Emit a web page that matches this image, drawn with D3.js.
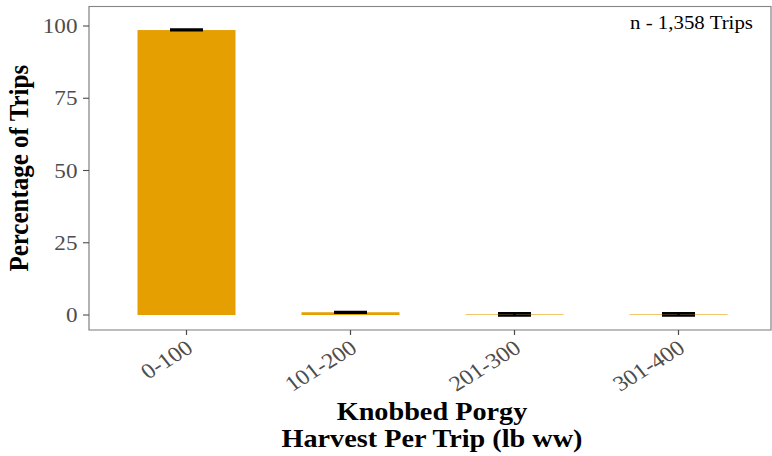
<!DOCTYPE html>
<html><head><meta charset="utf-8">
<script src="https://cdn.jsdelivr.net/npm/d3@7"></script>
<style>body{margin:0;background:#fff}svg{display:block}</style>
</head><body>
<script>
const categories = ["0-100","101-200","201-300","301-400"];
const values = [98.6, 0.95, 0.2, 0.2];
const errLow = [98.5, 0.75, -0.2, -0.2];
const errHigh = [98.8, 1.1, 0.6, 0.6];
const yTicks = [0,25,50,75,100];
const annotation = "n - 1,358 Trips";
const xTitle = ["Knobbed Porgy","Harvest Per Trip (lb ww)"];
const yTitle = "Percentage of Trips";

const W=772,H=456;
const SX=1.13;            // horizontal stretch of the picture
const VW=W/SX;
const px=v=>v/SX;         // pixel x -> viewBox x
const svg=d3.select("body").append("svg").attr("width",W).attr("height",H)
  .attr("viewBox",`0 0 ${VW} ${H}`).attr("preserveAspectRatio","none");

const panel={l:px(89),r:px(771),t:6.5,b:330};
const x=d3.scalePoint().domain(categories).range([px(186.5),px(678.5)]);
const y=d3.scaleLinear().domain([-5.19,106.75]).range([panel.b,panel.t]);
const font="Liberation Serif, Times New Roman, serif";
const gray="#4d4d4d";
const barW=px(98), errW=px(33);

// bars
svg.append("g").selectAll("rect").data(categories).join("rect")
  .attr("x",d=>x(d)-barW/2).attr("width",barW)
  .attr("y",(d,i)=>y(values[i])).attr("height",(d,i)=>y(0)-y(values[i]))
  .attr("fill","#E69F00");
// error bars
categories.forEach((c,i)=>{
  const g=svg.append("g").attr("stroke","#000").attr("stroke-width",2.3).attr("fill","none");
  [errLow[i],errHigh[i]].forEach(v=>g.append("line").attr("x1",x(c)-errW/2).attr("x2",x(c)+errW/2).attr("y1",y(v)).attr("y2",y(v)));
  g.append("line").attr("x1",x(c)).attr("x2",x(c)).attr("y1",y(errLow[i])).attr("y2",y(errHigh[i]));
});
// panel border
svg.append("rect").attr("x",panel.l).attr("y",panel.t).attr("width",panel.r-panel.l).attr("height",panel.b-panel.t)
  .attr("fill","none").attr("stroke","#858585").attr("stroke-width",1.1);
// y axis
yTicks.forEach(t=>{
  svg.append("line").attr("x1",px(83)).attr("x2",panel.l).attr("y1",y(t)).attr("y2",y(t)).attr("stroke",gray).attr("stroke-width",1.1);
  svg.append("text").attr("x",px(77.5)).attr("y",y(t)).attr("dy","0.35em").attr("text-anchor","end")
    .attr("font-family",font).attr("font-size",20.5).attr("fill",gray).text(t);
});
// x axis
categories.forEach((c,i)=>{
  svg.append("line").attr("x1",x(c)).attr("x2",x(c)).attr("y1",panel.b).attr("y2",panel.b+5).attr("stroke",gray).attr("stroke-width",1.1);
  svg.append("text").attr("transform",`translate(${x(c)+px(8)},${351}) rotate(-35)`)
    .attr("text-anchor","end").attr("font-family",font).attr("font-size",21.5).attr("fill",gray).text(c);
});
// titles
svg.append("text").attr("transform",`translate(${px(28)},${(panel.t+panel.b)/2}) rotate(-90)`).attr("text-anchor","middle")
  .attr("font-family",font).attr("font-weight","bold").attr("font-size",25).attr("fill","#000").text(yTitle);
xTitle.forEach((t,i)=>{
  svg.append("text").attr("x",px(432)).attr("y",420+i*27.5).attr("text-anchor","middle")
    .attr("font-family",font).attr("font-weight","bold").attr("font-size",25).attr("fill","#000").text(t);
});
svg.append("text").attr("x",px(753)).attr("y",29.5).attr("text-anchor","end").attr("font-family",font)
  .attr("font-size",18.5).attr("fill","#000").text(annotation);
</script>
</body></html>
